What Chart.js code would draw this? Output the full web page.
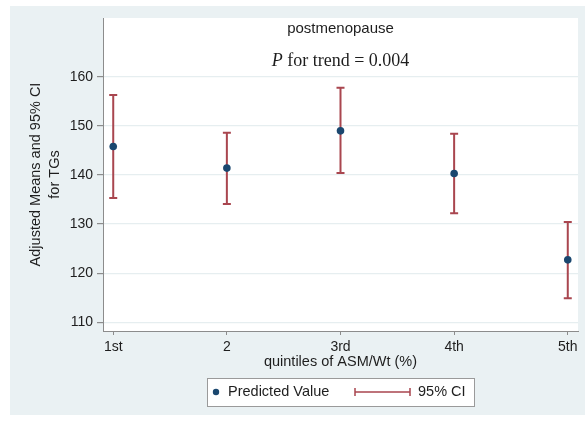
<!DOCTYPE html>
<html>
<head>
<meta charset="utf-8">
<script src="https://cdn.jsdelivr.net/npm/chart.js@4"></script>
<style>
  body { margin: 0; background: #fff; }
  canvas { display: block; }
</style>
</head>
<body>
<canvas id="mainChart" width="586" height="425"></canvas>
<script>
// quintile groups and adjusted means with 95% CI
const quintiles = ["1st", "2", "3rd", "4th", "5th"];
const meanTG = [145.8, 141.4, 149.0, 140.3, 122.7];
const lowerCI = [135.3, 134.1, 140.4, 132.2, 114.9];
const upperCI = [156.3, 148.6, 157.8, 148.4, 130.4];
const yTickValues = [110, 120, 130, 140, 150, 160];

const NAVY = "#1a476f";
const MAROON = "#a9464f";
const BG = "#eaf1f3";
const AXIS = "#8c8c8c";
const SANS = "'Liberation Sans', Arial, sans-serif";
const SERIF = "'Liberation Serif', 'Times New Roman', serif";

const points = meanTG.map((v, i) => ({ x: i + 1, y: v }));

// backgrounds: outer panel and white plot region
const backdrop = {
	id: "backdrop",
	beforeDraw(chart) {
		const ctx = chart.ctx, a = chart.chartArea;
		ctx.save();
		ctx.fillStyle = "#fff";
		ctx.fillRect(0, 0, chart.width, chart.height);
		ctx.fillStyle = BG;
		ctx.fillRect(10, 6, 575, 409);
		ctx.fillStyle = "#fff";
		ctx.fillRect(a.left, a.top, a.right - a.left, a.bottom - a.top);
		ctx.restore();
	}
};

// capped vertical CI bars, drawn under the points
const errorBars = {
	id: "errorBars",
	beforeDatasetsDraw(chart) {
		const ctx = chart.ctx;
		const xs = chart.scales.x, ys = chart.scales.y;
		ctx.save();
		ctx.strokeStyle = MAROON;
		ctx.lineWidth = 2;
		for (let i = 0; i < meanTG.length; i++) {
			const x = xs.getPixelForValue(i + 1);
			const yl = ys.getPixelForValue(lowerCI[i]);
			const yh = ys.getPixelForValue(upperCI[i]);
			ctx.beginPath();
			ctx.moveTo(x, yl); ctx.lineTo(x, yh);
			ctx.moveTo(x - 4, yl); ctx.lineTo(x + 4, yl);
			ctx.moveTo(x - 4, yh); ctx.lineTo(x + 4, yh);
			ctx.stroke();
		}
		ctx.restore();
	}
};

// titles, axis titles and the legend box
const annotations = {
	id: "annotations",
	afterDraw(chart) {
		const ctx = chart.ctx, a = chart.chartArea;
		const cx = (a.left + a.right) / 2;
		ctx.save();
		ctx.fillStyle = "#1e1e1e";
		ctx.textBaseline = "middle";

		ctx.textAlign = "center";
		ctx.font = "15px " + SANS;
		ctx.fillText("postmenopause", cx, 29);

		// "P for trend = 0.004" with italic P
		ctx.font = "italic 18px " + SERIF;
		const pW = ctx.measureText("P").width;
		ctx.font = "18px " + SERIF;
		const rest = " for trend = 0.004";
		const rW = ctx.measureText(rest).width;
		let x0 = cx - (pW + rW) / 2;
		ctx.textAlign = "left";
		ctx.font = "italic 18px " + SERIF;
		ctx.fillText("P", x0, 61);
		ctx.font = "18px " + SERIF;
		ctx.fillText(rest, x0 + pW, 61);

		// x axis title
		ctx.textAlign = "center";
		ctx.font = "14.5px " + SANS;
		ctx.fillText("quintiles of ASM/Wt (%)", cx, 362);

		// y axis title, two lines
		const cy = (a.top + a.bottom) / 2;
		ctx.save();
		ctx.translate(36, cy);
		ctx.rotate(-Math.PI / 2);
		ctx.fillText("Adjusted Means and 95% CI", 0, 0);
		ctx.fillText("for TGs", 0, 19);
		ctx.restore();

		// legend
		ctx.fillStyle = "#fff";
		ctx.fillRect(207, 378, 267, 28);
		ctx.strokeStyle = "#9a9a9a";
		ctx.lineWidth = 1;
		ctx.strokeRect(207.5, 378.5, 267, 28);
		ctx.fillStyle = NAVY;
		ctx.beginPath();
		ctx.arc(216, 392, 3.2, 0, Math.PI * 2);
		ctx.fill();
		ctx.strokeStyle = MAROON;
		ctx.lineWidth = 1.5;
		ctx.beginPath();
		ctx.moveTo(355, 392); ctx.lineTo(410, 392);
		ctx.moveTo(355, 388); ctx.lineTo(355, 396);
		ctx.moveTo(410, 388); ctx.lineTo(410, 396);
		ctx.stroke();
		ctx.fillStyle = "#1e1e1e";
		ctx.textAlign = "left";
		ctx.font = "14.5px " + SANS;
		ctx.fillText("Predicted Value", 228, 392);
		ctx.fillText("95% CI", 418, 392);
		ctx.restore();
	}
};

new Chart("mainChart", {
	type: "scatter",
	data: {
		datasets: [{
			label: "Predicted Value",
			data: points,
			backgroundColor: NAVY,
			borderColor: NAVY,
			borderWidth: 0,
			pointRadius: 3.8
		}]
	},
	options: {
		responsive: false,
		animation: false,
		devicePixelRatio: 1,
		layout: {
			autoPadding: false,
			padding: { top: 18, right: 8, left: 0, bottom: 0 }
		},
		plugins: {
			legend: { display: false },
			tooltip: { enabled: false }
		},
		scales: {
			x: {
				type: "linear",
				min: 0.91,
				max: 5.09,
				afterBuildTicks: (scale) => { scale.ticks = quintiles.map((q, i) => ({ value: i + 1 })); },
				afterFit: (scale) => { scale.height = 94; },
				ticks: {
					callback: (v) => quintiles[v - 1],
					color: "#1e1e1e",
					font: { family: SANS, size: 14 },
					padding: 4,
					maxRotation: 0
				},
				grid: { drawOnChartArea: false, tickLength: 4, tickColor: AXIS },
				border: { color: AXIS, width: 1 }
			},
			y: {
				min: 108.2,
				max: 172,
				afterBuildTicks: (scale) => { scale.ticks = yTickValues.map(v => ({ value: v })); },
				afterFit: (scale) => { scale.width = 103; },
				ticks: {
					color: "#1e1e1e",
					font: { family: SANS, size: 14 },
					padding: 4
				},
				grid: { color: "#e6eef0", lineWidth: 1.2, tickLength: 6, tickColor: AXIS },
				border: { color: AXIS, width: 1 }
			}
		}
	},
	plugins: [backdrop, errorBars, annotations]
});
</script>
</body>
</html>
